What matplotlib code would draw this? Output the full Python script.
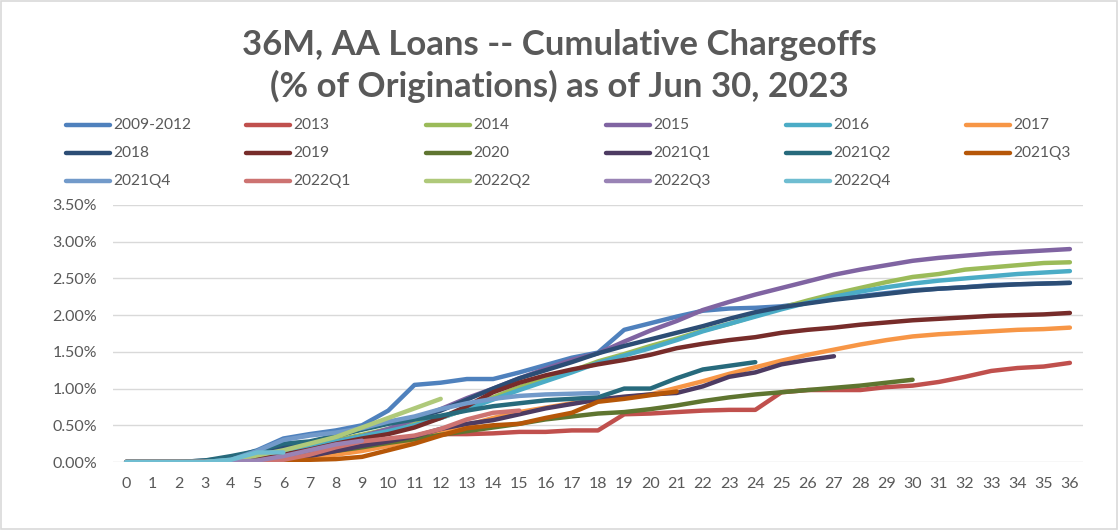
import matplotlib
matplotlib.use("Agg")
import matplotlib.pyplot as plt
from matplotlib.lines import Line2D
from matplotlib.patches import Rectangle
from matplotlib.ticker import PercentFormatter

# series names and colors (Excel default palette)
names = ["2009-2012", "2013", "2014", "2015", "2016", "2017",
         "2018", "2019", "2020", "2021Q1", "2021Q2", "2021Q3",
         "2021Q4", "2022Q1", "2022Q2", "2022Q3", "2022Q4"]
colors = ["#4F81BD", "#C0504D", "#9BBB59", "#8064A2", "#4BACC6", "#F79646",
          "#2C4D75", "#772C2A", "#5F7530", "#4D3B62", "#276A7C", "#B65708",
          "#729ACA", "#CD7371", "#AFC97A", "#9983B5", "#6FBDD1"]

months = list(range(37))

# cumulative chargeoffs, % of originations, by month on book
s2009_2012 = [0, 0, 0, 0, 0.05, 0.16, 0.32, 0.38, 0.43, 0.50, 0.70, 1.05, 1.08, 1.13, 1.13, 1.22, 1.32, 1.42, 1.49,
              1.80, 1.89, 1.98, 2.06, 2.09, 2.10, 2.12, 2.17, 2.22, 2.26, 2.30, 2.34, 2.36, 2.38, 2.41, 2.42, 2.43, 2.44]
s2013 = [0, 0, 0, 0, 0, 0.02, 0.05, 0.12, 0.20, 0.25, 0.30, 0.35, 0.38, 0.38, 0.39, 0.41, 0.41, 0.43, 0.43,
         0.65, 0.66, 0.68, 0.70, 0.71, 0.71, 0.95, 0.98, 0.98, 0.98, 1.02, 1.04, 1.09, 1.16, 1.24, 1.28, 1.30, 1.35]
s2014 = [0, 0, 0, 0, 0.02, 0.08, 0.15, 0.22, 0.30, 0.37, 0.45, 0.52, 0.60, 0.72, 0.88, 1.02, 1.13, 1.24, 1.37,
         1.47, 1.58, 1.68, 1.79, 1.88, 1.99, 2.10, 2.20, 2.29, 2.37, 2.45, 2.52, 2.56, 2.62, 2.65, 2.68, 2.71, 2.72]
s2015 = [0, 0, 0, 0, 0.01, 0.05, 0.12, 0.20, 0.28, 0.35, 0.45, 0.58, 0.72, 0.87, 1.00, 1.14, 1.27, 1.39, 1.48,
         1.64, 1.79, 1.92, 2.07, 2.18, 2.28, 2.37, 2.46, 2.55, 2.62, 2.68, 2.74, 2.78, 2.81, 2.84, 2.86, 2.88, 2.90]
s2016 = [0, 0, 0, 0, 0.02, 0.08, 0.15, 0.22, 0.28, 0.35, 0.42, 0.50, 0.60, 0.72, 0.85, 0.98, 1.10, 1.22, 1.35,
         1.45, 1.55, 1.66, 1.78, 1.88, 1.98, 2.08, 2.17, 2.25, 2.32, 2.38, 2.43, 2.47, 2.50, 2.53, 2.56, 2.58, 2.60]
s2017 = [0, 0, 0, 0, 0, 0.02, 0.04, 0.07, 0.10, 0.15, 0.22, 0.30, 0.40, 0.50, 0.60, 0.68, 0.74, 0.80, 0.85,
         0.88, 0.92, 1.01, 1.10, 1.20, 1.29, 1.38, 1.46, 1.53, 1.60, 1.66, 1.71, 1.74, 1.76, 1.78, 1.80, 1.81, 1.83]
s2018 = [0, 0, 0, 0.02, 0.05, 0.12, 0.20, 0.27, 0.35, 0.45, 0.53, 0.60, 0.70, 0.85, 1.00, 1.14, 1.25, 1.36, 1.48,
         1.58, 1.67, 1.76, 1.85, 1.95, 2.04, 2.11, 2.16, 2.21, 2.25, 2.29, 2.33, 2.36, 2.38, 2.40, 2.42, 2.43, 2.44]
s2019 = [0, 0, 0, 0, 0.01, 0.04, 0.10, 0.17, 0.25, 0.32, 0.38, 0.47, 0.60, 0.76, 0.95, 1.08, 1.18, 1.26, 1.33,
         1.39, 1.46, 1.55, 1.61, 1.66, 1.70, 1.76, 1.80, 1.83, 1.87, 1.90, 1.93, 1.95, 1.97, 1.99, 2.00, 2.01, 2.03]
s2020 = [0, 0, 0, 0, 0, 0.02, 0.05, 0.10, 0.15, 0.20, 0.26, 0.31, 0.37, 0.42, 0.47, 0.52, 0.58, 0.62, 0.66,
         0.68, 0.72, 0.77, 0.83, 0.88, 0.92, 0.95, 0.98, 1.01, 1.04, 1.08, 1.12]
s2021q1 = [0, 0, 0, 0, 0, 0.01, 0.03, 0.08, 0.15, 0.22, 0.28, 0.35, 0.45, 0.52, 0.57, 0.65, 0.73, 0.79, 0.85,
           0.89, 0.92, 0.94, 1.03, 1.16, 1.22, 1.33, 1.39, 1.44]
s2021q2 = [0, 0, 0, 0.02, 0.08, 0.15, 0.25, 0.28, 0.36, 0.44, 0.52, 0.58, 0.63, 0.70, 0.76, 0.80, 0.84, 0.86, 0.88,
           1.00, 1.00, 1.14, 1.26, 1.31, 1.36]
s2021q3 = [0, 0, 0, 0, 0, 0, 0.02, 0.03, 0.04, 0.07, 0.16, 0.25, 0.36, 0.46, 0.50, 0.52, 0.60, 0.67, 0.82,
           0.86, 0.91, 0.96]
s2021q4 = [0, 0, 0, 0, 0.03, 0.15, 0.30, 0.36, 0.40, 0.46, 0.55, 0.62, 0.72, 0.80, 0.86, 0.90, 0.92, 0.93, 0.94]
s2022q1 = [0, 0, 0, 0, 0, 0, 0.03, 0.10, 0.20, 0.28, 0.32, 0.36, 0.45, 0.58, 0.67, 0.70]
s2022q2 = [0, 0, 0, 0, 0.02, 0.09, 0.16, 0.25, 0.34, 0.47, 0.60, 0.73, 0.86]
s2022q3 = [0, 0, 0, 0, 0, 0.02, 0.08, 0.16, 0.24, 0.29]
s2022q4 = [0, 0, 0, 0, 0.03, 0.13, 0.13]

series = [s2009_2012, s2013, s2014, s2015, s2016, s2017, s2018, s2019, s2020,
          s2021q1, s2021q2, s2021q3, s2021q4, s2022q1, s2022q2, s2022q3, s2022q4]

W, H = 1119, 530
fig = plt.figure(figsize=(W / 100, H / 100), dpi=100)
grey = "#595959"
font = "Lato"

# outer chart border
fig.patches.append(Rectangle((0.001, 0.002), 0.997, 0.996, transform=fig.transFigure,
                             fill=False, edgecolor="#D9D9D9", lw=1.2))

ax = fig.add_axes([113 / W, 1 - 462 / H, (1083 - 113) / W, (462 - 205) / H])
for vals, c in zip(series, colors):
    ax.plot(months[:len(vals)], vals, color=c, lw=3.2,
            solid_capstyle="round", solid_joinstyle="round")

ax.set_xlim(-0.5, 36.5)
ax.set_ylim(0, 3.5)
ax.set_xticks(months)
ax.set_yticks([0, 0.5, 1.0, 1.5, 2.0, 2.5, 3.0, 3.5])
ax.yaxis.set_major_formatter(PercentFormatter(decimals=2))
ax.grid(axis="y", color="#D9D9D9", lw=1.0)
ax.set_axisbelow(True)
for sp in ax.spines.values():
    sp.set_visible(False)
ax.tick_params(length=0, labelcolor=grey, labelsize=11.5)
ax.tick_params(axis="y", pad=11.5)
ax.tick_params(axis="x", pad=11)
for lab in ax.get_xticklabels() + ax.get_yticklabels():
    lab.set_fontfamily(font)

# title
fig.text(0.5, 1 - 45 / H, "36M, AA Loans -- Cumulative Chargeoffs", ha="center", va="center",
         fontsize=25, fontweight="bold", color=grey, family=font)
fig.text(0.5, 1 - 86 / H, "(% of Originations) as of Jun 30, 2023", ha="center", va="center",
         fontsize=25, fontweight="bold", color=grey, family=font)

# legend laid out like Excel: 6 equal columns, row-major
for i, (name, c) in enumerate(zip(names, colors)):
    row, col = divmod(i, 6)
    x0 = 66 + 180 * col
    y = 1 - (125 + 28 * row) / H
    fig.add_artist(Line2D([x0 / W, (x0 + 44) / W], [y, y], transform=fig.transFigure,
                          color=c, lw=3.2, solid_capstyle="round"))
    fig.text((x0 + 47) / W, y, name, ha="left", va="center", fontsize=11.2,
             color=grey, family=font)

fig.savefig("out.png", dpi=100)
